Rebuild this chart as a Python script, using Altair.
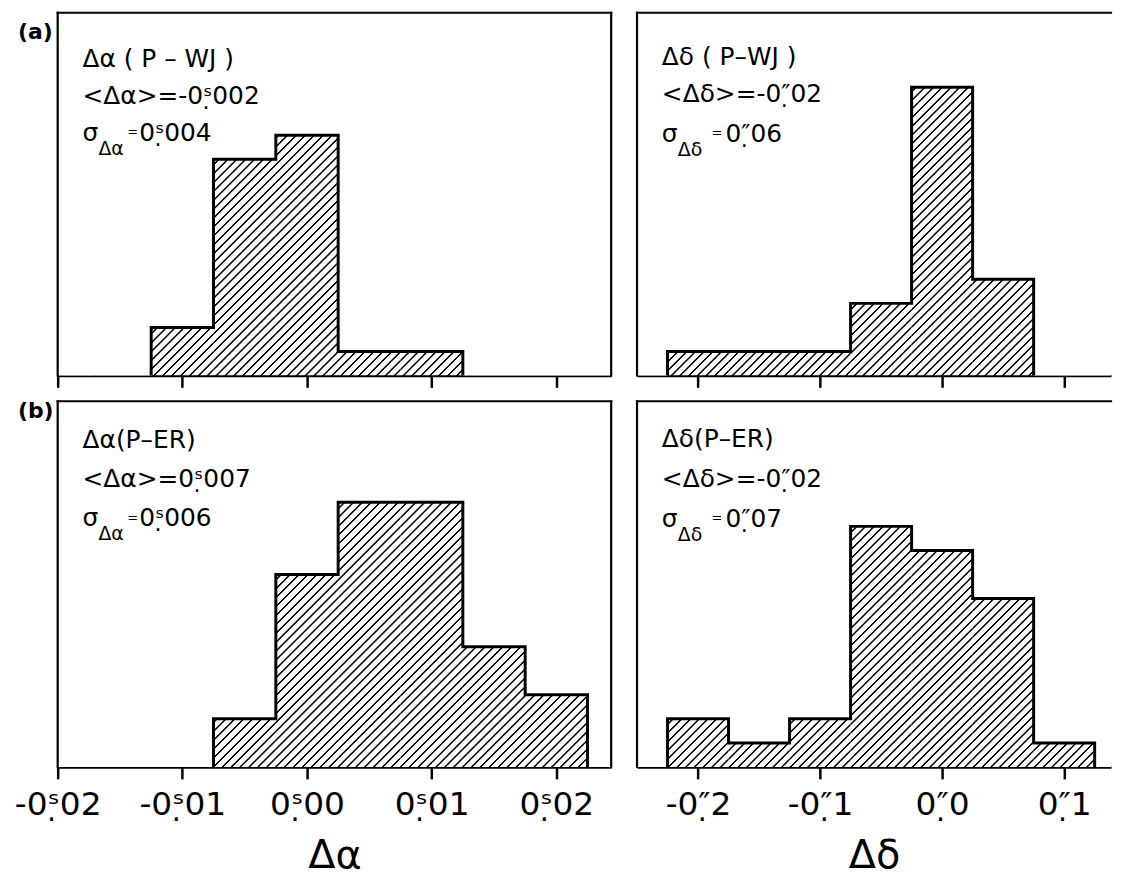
import altair as alt
import pandas as pd

FONT = "DejaVu Sans"

# ---------------- data ----------------
# Δα histograms: bin centres in seconds of time, bin width 0.005 s
ra_bin_centres = [-0.02, -0.015, -0.01, -0.005, 0.0, 0.005, 0.01, 0.015, 0.02, 0.025]
ra_counts_pwj = [0, 0, 2, 9, 10, 1, 1, 0, 0, 0]
ra_counts_per = [0, 0, 0, 2, 8, 11, 11, 5, 3, 0]
ra_ticks = [-0.02, -0.01, 0.0, 0.01, 0.02]

# Δδ histograms: bin centres in arcsec, bin width 0.05"
dec_bin_centres = [-0.25, -0.2, -0.15, -0.1, -0.05, 0.0, 0.05, 0.1, 0.15]
dec_counts_pwj = [0, 1, 1, 1, 3, 12, 4, 0, 0]
dec_counts_per = [0, 2, 1, 2, 10, 9, 7, 1, 0]
dec_ticks = [-0.2, -0.1, 0.0, 0.1]

# annotation texts
ra_pwj_text = ["Δα ( P – WJ )", "<Δα>=-0ˢ\u0323002", "σ", "Δα", "=", "0ˢ\u0323004"]
dec_pwj_text = ["Δδ ( P–WJ )", "<Δδ>=-0″\u032302", "σ", "Δδ", "=", "0″\u032306"]
ra_per_text = ["Δα(P–ER)", "<Δα>=0ˢ\u0323007", "σ", "Δα", "=", "0ˢ\u0323006"]
dec_per_text = ["Δδ(P–ER)", "<Δδ>=-0″\u032302", "σ", "Δδ", "=", "0″\u032307"]
row_labels = ["(a)", "(b)"]
x_titles = ["Δα", "Δδ"]

# ---------------- helpers ----------------
def hatch_gradient(w, h, period, core=1.3, ramp=0.8):
    """45-degree '/' hatching as a linear gradient on a w x h box.
    Gradient parameter t = (x + y) / (w + h)."""
    r = h / w
    k = (1 + r) / (1 + r * r)
    L = w + h
    stops = []
    s = 0.0
    while s < L:
        pts = [(s, "black"), (s + core, "black"), (s + core + ramp, "white"),
               (s + period - ramp, "white")]
        for pos, col in pts:
            if pos <= L:
                stops.append({"offset": round(pos / L, 7), "color": col})
        s += period
    stops.append({"offset": 1.0, "color": "white"})
    return {"gradient": "linear", "x1": 0, "y1": 0, "x2": k, "y2": k * r, "stops": stops}


def outline_df(centres, counts, half):
    nz = [i for i, c in enumerate(counts) if c > 0]
    i0, i1 = nz[0], nz[-1]
    xs = [centres[i0] - half]
    ns = [0]
    for i in range(i0, i1 + 1):
        xs.append(centres[i] - half)
        ns.append(counts[i])
    xs.append(centres[i1] + half)
    ns.append(0)
    return pd.DataFrame({"x": xs, "n": ns, "o": list(range(len(xs)))})


def txt(s, x, y, size=25, weight="normal"):
    return alt.Chart(pd.DataFrame({"t": [s]})).mark_text(
        align="left", baseline="alphabetic", font=FONT, fontSize=size,
        fontWeight=weight, color="black"
    ).encode(x=alt.value(x), y=alt.value(y), text="t:N")


def rule_h(x0, x1, y):
    return alt.Chart(pd.DataFrame({"k": [0]})).mark_rule(
        color="black", strokeWidth=2.2, strokeCap="square"
    ).encode(x=alt.value(x0), x2=alt.value(x1), y=alt.value(y))


def rule_v(x, y0, y1):
    return alt.Chart(pd.DataFrame({"k": [0]})).mark_rule(
        color="black", strokeWidth=2.2, strokeCap="square"
    ).encode(x=alt.value(x), y=alt.value(y0), y2=alt.value(y1))


def panel(centres, counts, half, dom, ticks, width, height, ymax, texts, tpos,
          bottom, label_expr, title, row_label=None, row_label_y=0, right_border=True):
    xs = alt.Scale(domain=dom, nice=False, zero=False)
    ys = alt.Scale(domain=[0, ymax], nice=False, zero=True)
    if bottom:
        ax = alt.Axis(values=ticks, labelExpr=label_expr, title=title, grid=False,
                      tickSize=12, tickWidth=2.5, tickColor="black",
                      domainWidth=2.5, domainColor="black",
                      labelFont=FONT, labelFontSize=33, labelColor="black",
                      labelPadding=10, labelFlush=False, labelOverlap=False,
                      titleFont=FONT, titleFontSize=40, titleFontWeight="normal",
                      titleColor="black", titlePadding=14)
    else:
        ax = alt.Axis(values=ticks, labels=False, title=None, grid=False,
                      tickSize=12, tickWidth=2.5, tickColor="black",
                      domainWidth=2.5, domainColor="black")

    df = pd.DataFrame({"c": centres, "n": counts})
    base = alt.Chart(df).transform_calculate(
        x0=f"datum.c - {half}", x1=f"datum.c + {half}"
    )
    bin_px = 2 * half * width / (dom[1] - dom[0])
    period = bin_px / 7.0

    hatch = base.transform_filter("datum.n > 0").mark_rect(
        fill=hatch_gradient(bin_px, height, period), clip=True
    ).encode(
        x=alt.X("x0:Q", scale=xs, axis=ax),
        x2="x1:Q",
        y=alt.value(0),
        y2=alt.value(height),
    )

    mask = base.mark_rect(fill="white", stroke="white", strokeWidth=1, clip=True).encode(
        x=alt.X("x0:Q", scale=xs, axis=ax),
        x2="x1:Q",
        y=alt.Y("n:Q", scale=ys, axis=None),
        y2=alt.value(0),
    )

    line = alt.Chart(outline_df(centres, counts, half)).mark_line(
        interpolate="step-after", color="black", strokeWidth=3, strokeJoin="miter"
    ).encode(
        x=alt.X("x:Q", scale=xs),
        y=alt.Y("n:Q", scale=ys),
        order="o:Q",
    )

    layers = [hatch, mask, line,
              rule_h(0, width, 0), rule_v(0, 0, height)]
    if right_border:
        layers.append(rule_v(width, 0, height))

    x0, y1, y2, y3, sub_dx, eq_dx, val_dx = tpos
    layers += [
        txt(texts[0], x0, y1),
        txt(texts[1], x0, y2),
        txt(texts[2], x0, y3),
        txt(texts[3], x0 + sub_dx, y3 + 14, size=19),
        txt(texts[4], x0 + eq_dx, y3 - 5, size=13),
        txt(texts[5], x0 + val_dx, y3),
    ]
    if row_label:
        layers.append(txt(row_label, -40, row_label_y, size=22, weight="bold"))

    return alt.layer(*layers).properties(width=width, height=height)


ra_expr = "(datum.value < 0 ? '-' : '') + '0ˢ\u0323' + format(abs(datum.value) * 100, '02.0f')"
dec_expr = "(datum.value < 0 ? '-' : '') + '0″\u0323' + format(abs(datum.value) * 10, '.0f')"

WL, WR = 557, 477
HT, HB = 365, 368
RA_DOM = [-0.02, 0.0244]
DEC_DOM = [-0.25, 0.1384]

p_a_ra = panel(ra_bin_centres, ra_counts_pwj, 0.0025, RA_DOM, ra_ticks, WL, HT, 15.1,
               ra_pwj_text, (25, 55, 92, 129, 16, 45, 57), False, ra_expr, None,
               row_labels[0], 26, True)
p_a_dec = panel(dec_bin_centres, dec_counts_pwj, 0.025, DEC_DOM, dec_ticks, WR, HT, 15.1,
                dec_pwj_text, (25, 53, 90, 130, 16, 50, 64), False, dec_expr, None,
                None, 0, False)
p_b_ra = panel(ra_bin_centres, ra_counts_per, 0.0025, RA_DOM, ra_ticks, WL, HB, 15.2,
               ra_per_text, (25, 47, 86, 126, 16, 45, 57), True, ra_expr, x_titles[0],
               row_labels[1], 17, True)
p_b_dec = panel(dec_bin_centres, dec_counts_per, 0.025, DEC_DOM, dec_ticks, WR, HB, 15.2,
                dec_per_text, (25, 46, 86, 127, 16, 50, 64), True, dec_expr, x_titles[1],
                None, 0, False)

chart = alt.concat(p_a_ra, p_a_dec, p_b_ra, p_b_dec, columns=2, spacing=26,
                   bounds="flush").properties(
    padding={"left": 6, "top": 0, "right": 0, "bottom": 0},
    background="white",
).configure_view(stroke=None)

chart.save("out.html", embed_options={"renderer": "svg", "actions": False})
